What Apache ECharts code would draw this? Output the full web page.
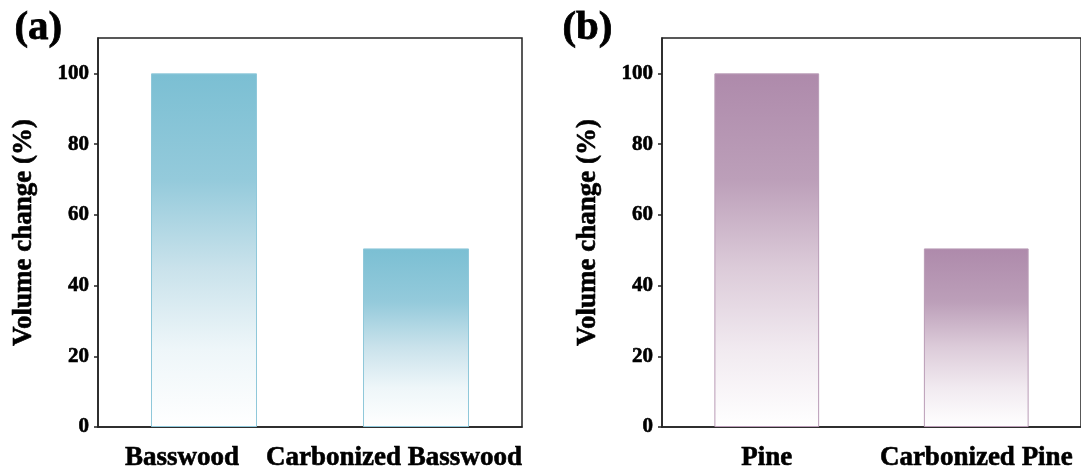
<!DOCTYPE html>
<html>
<head>
<meta charset="utf-8">
<script src="https://cdn.jsdelivr.net/npm/echarts@6/dist/echarts.min.js"></script>
<style>
  html, body { margin: 0; padding: 0; background: #fff; }
  #chart { width: 1081px; height: 473px; }
</style>
</head>
<body>
<div id="chart"></div>
<script>
// Volume change of native and carbonized woods
const basswoodCategories = ['Basswood', 'Carbonized Basswood'];
const basswoodValues = [100, 50.5];
const pineCategories = ['Pine', 'Carbonized Pine'];
const pineValues = [100, 50.5];
const yTicks = [0, 20, 40, 60, 80, 100];

const FONT = '"Liberation Serif", "Times New Roman", serif';
const INK = '#000';
const HEAVY = { textBorderColor: INK, textBorderWidth: 0.6 };

function fade(top, stops) {
  return new echarts.graphic.LinearGradient(0, 0, 0, 1, [
    { offset: 0, color: top },
    { offset: 0.3, color: stops[0] },
    { offset: 0.55, color: stops[1] },
    { offset: 0.78, color: stops[2] },
    { offset: 1, color: '#ffffff' }
  ]);
}

const blueFill = fade('#7bbfd3', ['#94cadb', '#c9e2eb', '#eef6f9']);
const purpleFill = fade('#ae8aab', ['#bc9fb9', '#dccbd9', '#f1eaf0']);

const chart = echarts.init(document.getElementById('chart'), null, { renderer: 'canvas' });

function yAxis(gridIndex) {
  return {
    gridIndex: gridIndex,
    type: 'value',
    min: 0,
    max: 110,
    interval: 20,
    name: 'Volume change (%)',
    nameLocation: 'middle',
    nameGap: 60,
    nameTextStyle: Object.assign({ fontFamily: FONT, fontWeight: 'bold', fontSize: 27, color: INK }, HEAVY),
    axisLine: { show: true, lineStyle: { color: '#222', width: 1.5 } },
    axisTick: { show: true, length: 4, customValues: yTicks, lineStyle: { color: '#222', width: 1.5 } },
    axisLabel: Object.assign({
      fontFamily: FONT, fontWeight: 'bold', fontSize: 21, color: INK, margin: 9,
      customValues: yTicks
    }, HEAVY),
    splitLine: { show: false }
  };
}

function xAxis(gridIndex, cats, shiftLeft) {
  return {
    gridIndex: gridIndex,
    type: 'category',
    data: cats,
    axisLine: { show: true, lineStyle: { color: '#222', width: 1.5 } },
    axisTick: { show: false },
    axisLabel: Object.assign({
      fontFamily: FONT, fontWeight: 'bold', fontSize: 27, color: INK, margin: 18, interval: 0,
      padding: [0, shiftLeft * 2, 0, 0]
    }, HEAVY)
  };
}

function barSeries(idx, values, fill, edge) {
  return {
    type: 'bar',
    xAxisIndex: idx,
    yAxisIndex: idx,
    data: values,
    barWidth: '50%',
    itemStyle: { color: fill, borderColor: edge, borderWidth: 1 },
    silent: true
  };
}

chart.setOption({
  animation: false,
  backgroundColor: '#ffffff',
  grid: [
    { left: 98, right: 559, top: 38, bottom: 46, show: true, borderColor: '#222', borderWidth: 1.5, backgroundColor: 'transparent' },
    { left: 662, right: -7, top: 38, bottom: 46, show: true, borderColor: '#222', borderWidth: 1.5, backgroundColor: 'transparent' }
  ],
  xAxis: [xAxis(0, basswoodCategories, 22), xAxis(1, pineCategories, 0)],
  yAxis: [yAxis(0), yAxis(1)],
  series: [
    barSeries(0, basswoodValues, blueFill, '#8fc8da'),
    barSeries(1, pineValues, purpleFill, '#b99bb6')
  ],
  graphic: [
    { type: 'text', left: 14, top: 8, style: { text: '(a)', font: 'bold 41px ' + FONT, fill: INK, stroke: INK, lineWidth: 0.8 } },
    { type: 'text', left: 562, top: 8, style: { text: '(b)', font: 'bold 41px ' + FONT, fill: INK, stroke: INK, lineWidth: 0.8 } }
  ]
});
</script>
</body>
</html>
